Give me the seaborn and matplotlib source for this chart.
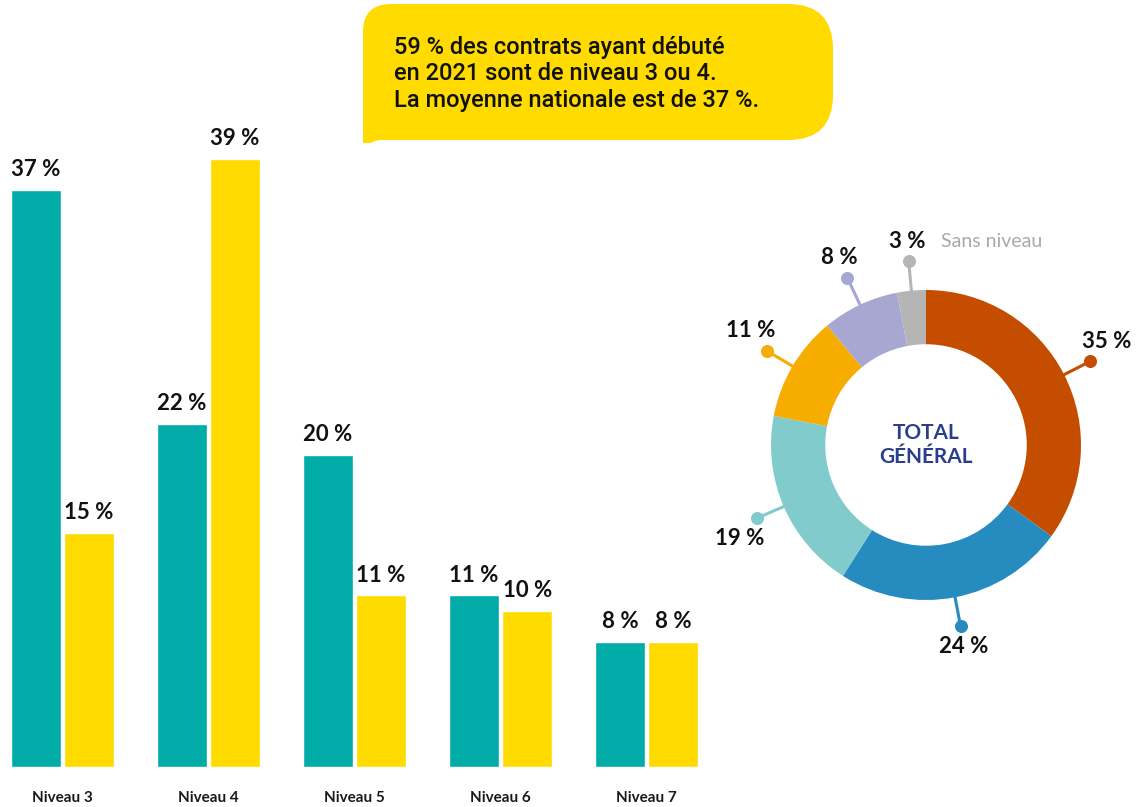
import matplotlib
matplotlib.use("Agg")
import matplotlib.pyplot as plt
from matplotlib.path import Path
from matplotlib.patches import PathPatch
import numpy as np
import pandas as pd
import seaborn as sns

# Données
niveaux = ["Niveau 3", "Niveau 4", "Niveau 5", "Niveau 6", "Niveau 7"]
series = ["Région", "National"]
valeurs_region = [37, 22, 20, 11, 8]
valeurs_national = [15, 39, 11, 10, 8]

parts_labels = ["Niveau 3", "Niveau 4", "Niveau 5", "Niveau 6", "Niveau 7", "Sans niveau"]
parts_valeurs = [35, 24, 19, 11, 8, 3]

bulle_texte = ("59\u202f% des contrats ayant débuté\n"
               "en 2021 sont de niveau 3 ou 4.\n"
               "La moyenne nationale est de 37\u202f%.")

# Couleurs
col_bars = ["#00ABA8", "#FFDB00"]
col_donut = ["#C44D00", "#268BBF", "#82CBCD", "#F7AC00", "#A7A7D1", "#B5B5B5"]

sns.set_theme(style="white")
plt.rcParams["font.family"] = ["Lato", "DejaVu Sans"]

W, H = 1138, 807
fig = plt.figure(figsize=(W / 100, H / 100), dpi=100)

def px_axes(left, top, right, bottom):
    # position en pixels -> fraction de figure
    return fig.add_axes([left / W, 1 - bottom / H, (right - left) / W, (bottom - top) / H])

# =============================================================================
# Barres
unit = 146.0
x0 = 62.5
xmin, xmax = -0.42, 4.4
y_base, px_per = 767, 15.6
ymax = 40
ax = px_axes(x0 + xmin * unit, y_base - ymax * px_per, x0 + xmax * unit, y_base)

df = pd.DataFrame({
    "niveau": niveaux * 2,
    "serie": [series[0]] * 5 + [series[1]] * 5,
    "valeur": valeurs_region + valeurs_national,
})
sns.barplot(data=df, x="niveau", y="valeur", hue="serie", palette=col_bars,
            width=0.73, gap=0.06, saturation=1, legend=False, ax=ax)
ax.set_xlim(xmin, xmax)
ax.set_ylim(0, ymax)
ax.set_xlabel("")
ax.set_ylabel("")
ax.set_yticks([])
sns.despine(ax=ax, left=True, bottom=True)
ax.tick_params(axis="x", length=0, pad=17)
for lab in ax.get_xticklabels():
    lab.set_fontsize(11)
    lab.set_fontweight("bold")
    lab.set_color("#1a1a1a")

for cont, vals in zip(ax.containers, [valeurs_region, valeurs_national]):
    ax.bar_label(cont, labels=[f"{v} %" for v in vals], padding=7,
                 fontsize=16, fontweight="bold", color="#111111")

# =============================================================================
# Anneau
cx, cy, R = 926, 445, 155
lim = 1.25
axd = px_axes(cx - lim * R, cy - lim * R, cx + lim * R, cy + lim * R)
wedges, _ = axd.pie(parts_valeurs, colors=col_donut, startangle=90, counterclock=False,
                    radius=1, wedgeprops=dict(width=0.35, linewidth=0))
axd.set_xlim(-lim, lim)
axd.set_ylim(-lim, lim)
axd.set_aspect("equal")
axd.axis("off")

for w, v, c, nom in zip(wedges, parts_valeurs, col_donut, parts_labels):
    ang = np.deg2rad((w.theta1 + w.theta2) / 2)
    ca, sa = np.cos(ang), np.sin(ang)
    axd.plot([ca * 0.98, ca * 1.19], [sa * 0.98, sa * 1.19], color=c, lw=2.2,
             solid_capstyle="butt", clip_on=False)
    axd.scatter([ca * 1.19], [sa * 1.19], s=70, color=c, zorder=3, clip_on=False)
    axd.annotate(f"{v} %", (ca * 1.19, sa * 1.19), xytext=(13.5 * ca, 14.5 * np.sign(sa)),
                 textcoords="offset points", ha="center", va="center", fontsize=16,
                 fontweight="bold", color="#111111", annotation_clip=False)
    if nom == "Sans niveau":
        axd.annotate(nom, (ca * 1.19, sa * 1.19), xytext=(23, 14.5),
                     textcoords="offset points", ha="left", va="center", fontsize=14,
                     fontweight="normal", color="#A9A9A9", annotation_clip=False)

axd.text(0, 0, "TOTAL\nGÉNÉRAL", ha="center", va="center", fontsize=15,
         fontweight="bold", color="#2B3E8C", linespacing=1.25)

# =============================================================================
# Bulle
axo = fig.add_axes([0, 0, 1, 1], zorder=-1)
axo.set_xlim(0, W)
axo.set_ylim(H, 0)
axo.axis("off")
verts = [(363, 152), (363, 32), (363, 4), (391, 4), (788, 4), (833, 4), (833, 49),
         (833, 95), (833, 140), (788, 140), (380, 140), (368, 141), (363, 152)]
codes = [Path.MOVETO, Path.LINETO, Path.CURVE3, Path.CURVE3, Path.LINETO, Path.CURVE3,
         Path.CURVE3, Path.LINETO, Path.CURVE3, Path.CURVE3, Path.LINETO, Path.CURVE3,
         Path.CURVE3]
axo.add_patch(PathPatch(Path(verts, codes), facecolor="#FFDB00", edgecolor="none"))
axo.text(394, 74, bulle_texte, ha="left", va="center", fontsize=17,
         family=["Roboto", "DejaVu Sans"], fontweight="medium", color="#111111",
         linespacing=1.22)

fig.savefig("out.png", dpi=100)
